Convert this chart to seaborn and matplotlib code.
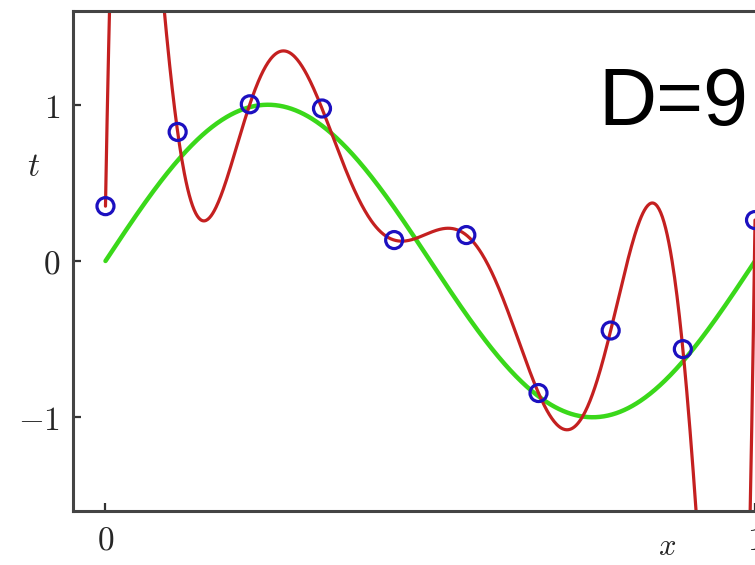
import numpy as np
import pandas as pd
import matplotlib
matplotlib.use("Agg")
import matplotlib.pyplot as plt
import seaborn as sns

# ---- data ----
x_obs = [0.0, 1/9, 2/9, 3/9, 4/9, 5/9, 6/9, 7/9, 8/9, 1.0]
t_obs = [0.351, 0.826, 1.003, 0.976, 0.134, 0.166, -0.845, -0.445, -0.564, 0.262]
x_ticks = [0, 1]
y_ticks = [-1, 0, 1]
label_text = "D=9"
poly_degree = 9

sns.set_theme(style="white")
plt.rcParams["mathtext.fontset"] = "cm"

fig = plt.figure(figsize=(7.55, 5.65), dpi=100)
# axes extends past the right edge (the reference is cropped)
ax = fig.add_axes([73/755, 54/565, (787.5-73)/755, 500/565])

grid = np.linspace(0, 1, 800)
true_df = pd.DataFrame({"x": grid, "t": np.sin(2*np.pi*grid)})
fit = np.polynomial.Polynomial.fit(x_obs, t_obs, poly_degree)
fit_df = pd.DataFrame({"x": grid, "t": fit(grid)})
obs_df = pd.DataFrame({"x": x_obs, "t": t_obs})

sns.lineplot(data=true_df, x="x", y="t", ax=ax, color="#3ad81a", lw=3.2,
             sort=False, estimator=None)
sns.lineplot(data=fit_df, x="x", y="t", ax=ax, color="#c42020", lw=2.3,
             sort=False, estimator=None)
sns.scatterplot(data=obs_df, x="x", y="t", ax=ax, s=150, marker="o",
                facecolor="none", edgecolor="#1c10c0", linewidth=2.3, zorder=5)

ax.set_xlim(-0.05, 1.05)
ax.set_ylim(-1.6, 1.6)
ax.set_xticks(x_ticks)
ax.set_xticklabels([f"${v}$" for v in x_ticks])
ax.set_yticks(y_ticks)
ax.set_yticklabels([f"${v}$" for v in y_ticks])
ax.tick_params(direction="in", length=6, width=1.6, color="#333333",
               labelsize=24, left=True, bottom=True)
ax.tick_params(axis="x", pad=9)
ax.tick_params(axis="y", pad=9)
ax.set_xlabel("")
ax.set_ylabel("")
for s in ax.spines.values():
    s.set_color("#444444")
    s.set_linewidth(2.2)

fig.text(34/755, 1-167/565, "$t$", fontsize=24, ha="center", va="center")
fig.text(667/755, 1-555/565, "$x$", fontsize=22, ha="center", va="baseline")
fig.text(598/755, 1-125/565, label_text, fontsize=58, family="Liberation Sans",
         ha="left", va="baseline", color="black")

fig.savefig("out.png", dpi=100)
